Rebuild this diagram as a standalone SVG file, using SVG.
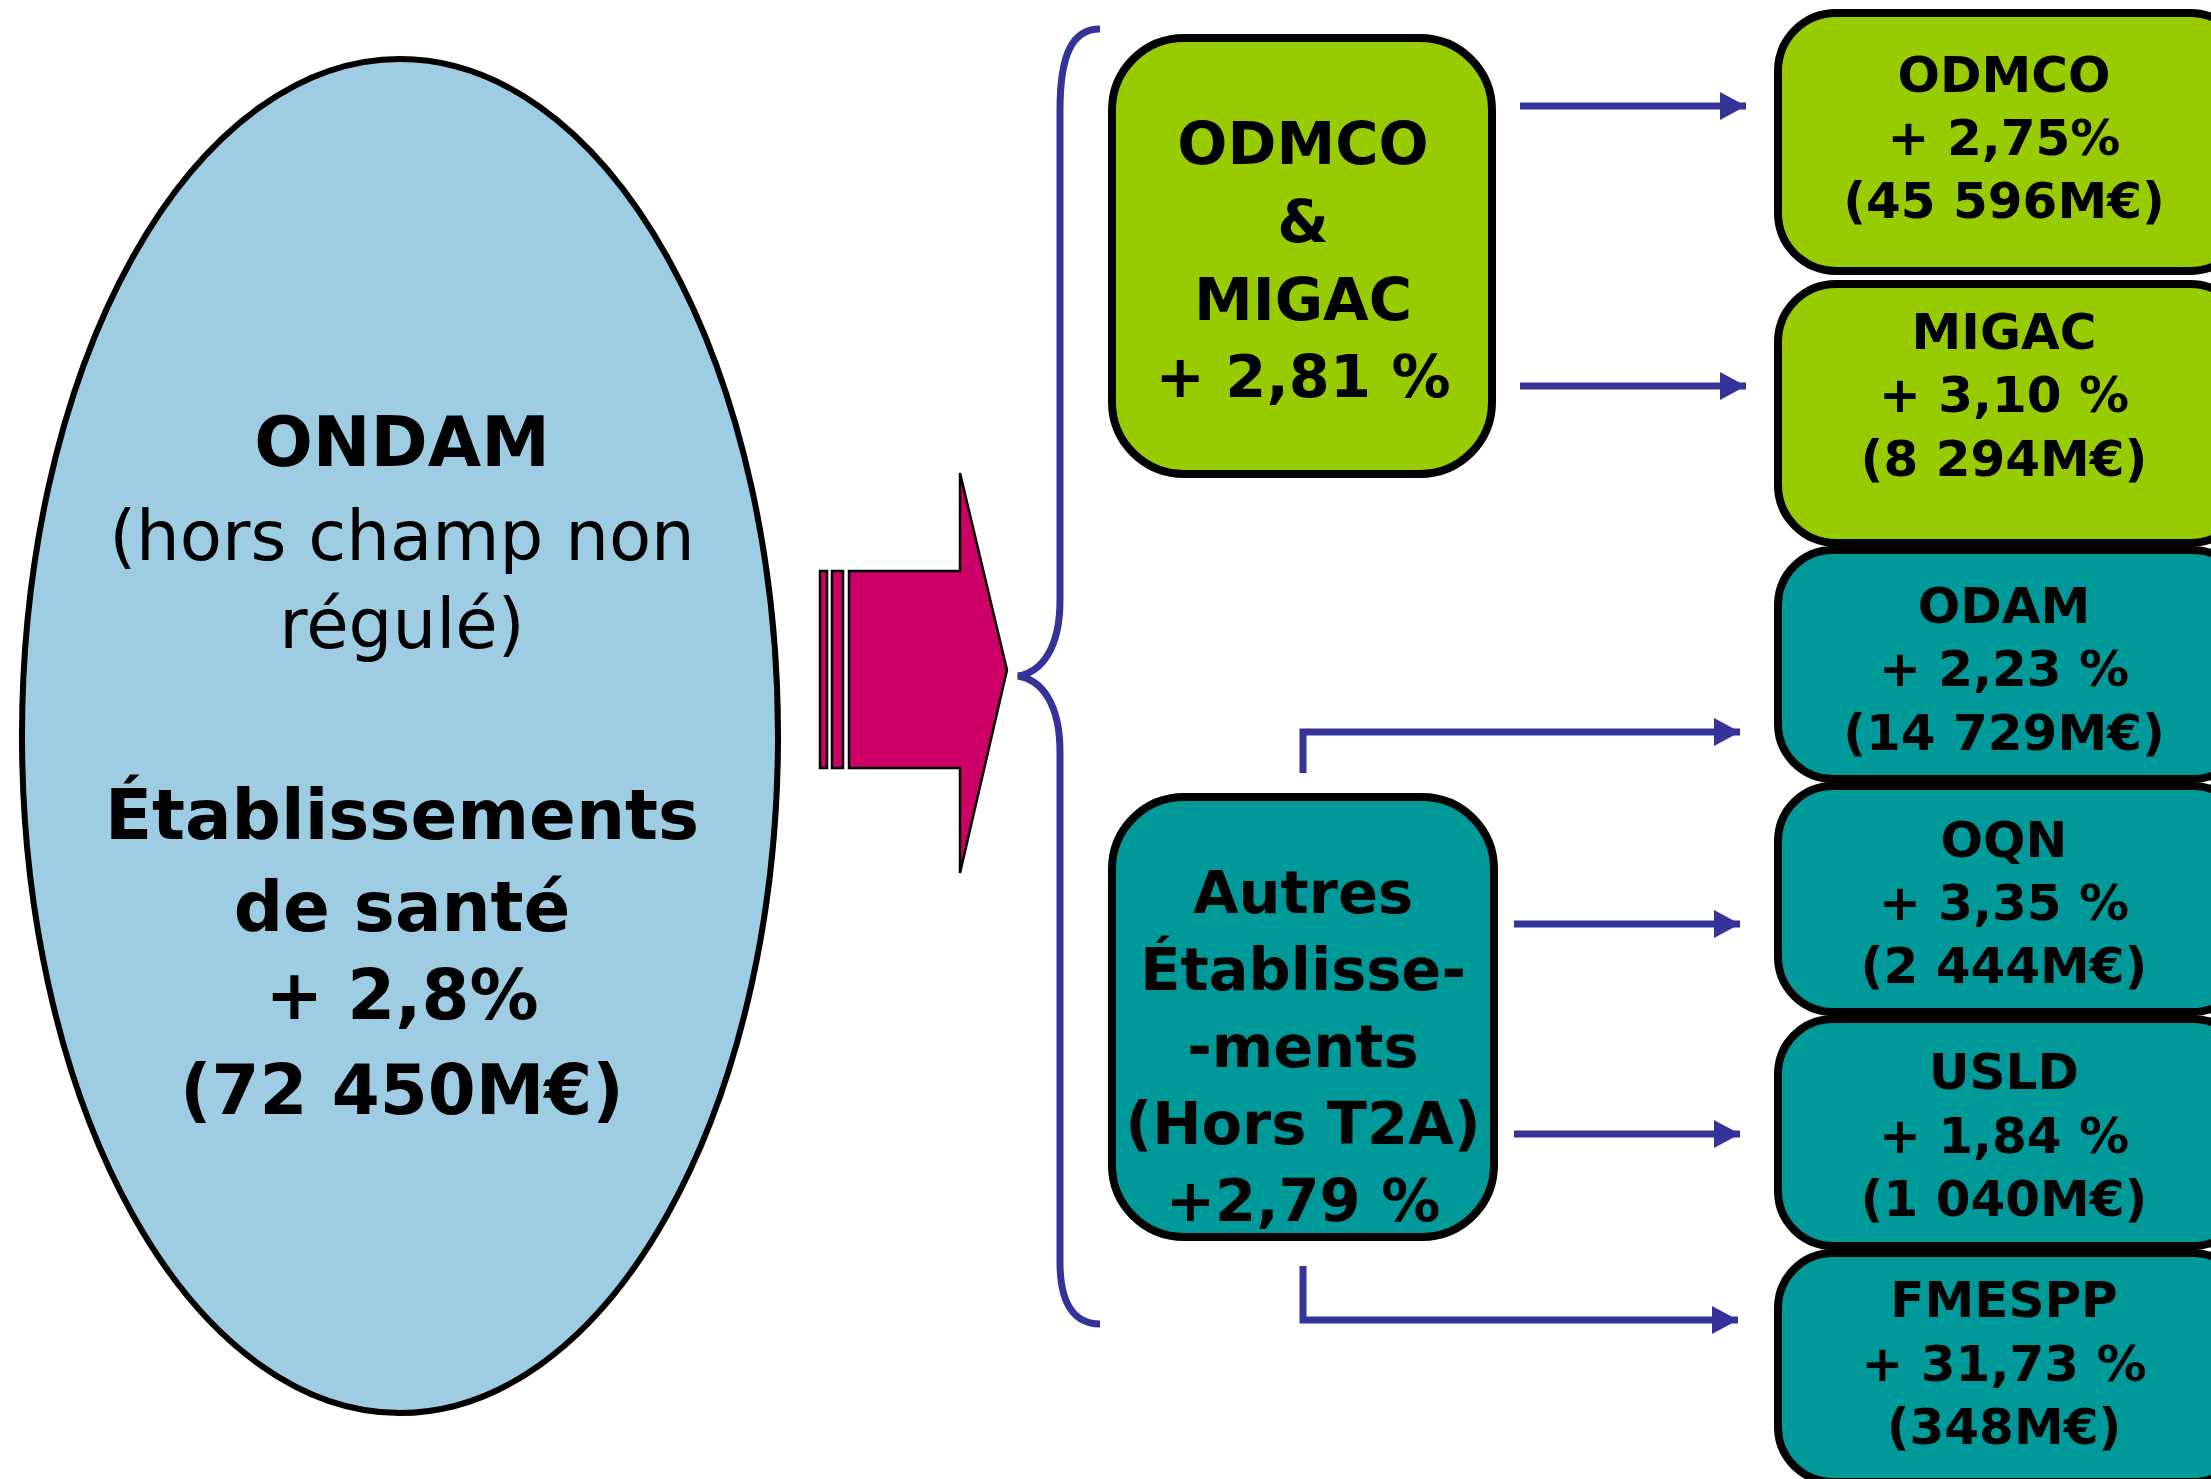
<svg xmlns="http://www.w3.org/2000/svg" width="2211" height="1479" viewBox="0 0 2211 1479">
  <style>
    .t { font-family: "DejaVu Sans", "Liberation Sans", sans-serif; font-weight: bold; text-anchor: middle; fill: #000; }
    .reg { font-weight: normal; }
    .green { fill: #99CC00; stroke: #000; stroke-width: 8; }
    .teal { fill: #009999; stroke: #000; stroke-width: 8; }
    .link { fill: none; stroke: #333399; stroke-width: 7; }
    .big { font-size: 59px; }
    .small { font-size: 50px; }
    .oval { font-size: 69px; }
  </style>
  <defs>
    <marker id="head" markerUnits="userSpaceOnUse" markerWidth="32" markerHeight="32" refX="26" refY="14" orient="auto">
      <path d="M0,0 L26,14 L0,28 Z" fill="#333399"/>
    </marker>
  </defs>
  <rect width="2211" height="1479" fill="#fff"/>

  <!-- main total -->
  <g id="ondam">
    <ellipse cx="400" cy="736" rx="378" ry="677" fill="#9ECCE2" stroke="#000" stroke-width="6"/>
    <text class="t oval" x="402" y="466">ONDAM</text>
    <text class="t oval reg" x="402" y="560">(hors champ non</text>
    <text class="t oval reg" x="402" y="648">régulé)</text>
    <text class="t oval" x="402" y="839">Établissements</text>
    <text class="t oval" x="402" y="931">de santé</text>
    <text class="t oval" x="402" y="1019">+ 2,8%</text>
    <text class="t oval" x="402" y="1114">(72 450M€)</text>
  </g>

  <!-- striped block arrow -->
  <g id="split-arrow" fill="#CC0066" stroke="#000" stroke-width="2.5">
    <rect x="820" y="571" width="7" height="197"/>
    <rect x="832" y="571" width="11" height="197"/>
    <path d="M849,571 L960,571 L960,473 L1007,670 L960,873 L960,768 L849,768 Z"/>
  </g>

  <!-- brace -->
  <g id="brace">
    <path class="link" d="M1100,29 C1072,29 1060,55 1060,110 L1060,600 C1060,648 1042,672 1018,676 C1042,680 1060,704 1060,752 L1060,1262 C1060,1305 1075,1324 1100,1324"/>
  </g>

  <g id="odmco-migac">
    <rect class="green" x="1112" y="38" width="380" height="436" rx="72"/>
    <text class="t big" x="1303" y="164">ODMCO</text>
    <text class="t big" x="1303" y="242">&amp;</text>
    <text class="t big" x="1303" y="320">MIGAC</text>
    <text class="t big" x="1303" y="397">+ 2,81 %</text>
  </g>

  <g id="autres">
    <rect class="teal" x="1112" y="797" width="382" height="440" rx="72"/>
    <text class="t big" x="1303" y="913">Autres</text>
    <text class="t big" x="1303" y="990">Établisse-</text>
    <text class="t big" x="1303" y="1067">-ments</text>
    <text class="t big" x="1303" y="1144">(Hors T2A)</text>
    <text class="t big" x="1303" y="1221">+2,79 %</text>
  </g>

  <g id="odmco">
    <rect class="green" x="1778" y="13" width="470" height="258" rx="58"/>
    <text class="t small" x="2004" y="92">ODMCO</text>
    <text class="t small" x="2004" y="155">+ 2,75%</text>
    <text class="t small" x="2004" y="218">(45 596M€)</text>
  </g>

  <g id="migac">
    <rect class="green" x="1778" y="284" width="470" height="259" rx="58"/>
    <text class="t small" x="2004" y="349">MIGAC</text>
    <text class="t small" x="2004" y="412">+ 3,10 %</text>
    <text class="t small" x="2004" y="476">(8 294M€)</text>
  </g>

  <g id="odam">
    <rect class="teal" x="1778" y="550" width="470" height="229" rx="55"/>
    <text class="t small" x="2004" y="623">ODAM</text>
    <text class="t small" x="2004" y="686">+ 2,23 %</text>
    <text class="t small" x="2004" y="750">(14 729M€)</text>
  </g>

  <g id="oqn">
    <rect class="teal" x="1778" y="786" width="470" height="226" rx="55"/>
    <text class="t small" x="2004" y="857">OQN</text>
    <text class="t small" x="2004" y="920">+ 3,35 %</text>
    <text class="t small" x="2004" y="983">(2 444M€)</text>
  </g>

  <g id="usld">
    <rect class="teal" x="1778" y="1019" width="470" height="227" rx="55"/>
    <text class="t small" x="2004" y="1089">USLD</text>
    <text class="t small" x="2004" y="1153">+ 1,84 %</text>
    <text class="t small" x="2004" y="1216">(1 040M€)</text>
  </g>

  <g id="fmespp">
    <rect class="teal" x="1778" y="1253" width="470" height="229" rx="55"/>
    <text class="t small" x="2004" y="1317">FMESPP</text>
    <text class="t small" x="2004" y="1381">+ 31,73 %</text>
    <text class="t small" x="2004" y="1444">(348M€)</text>
  </g>

  <!-- connectors -->
  <g id="connectors">
    <path class="link" d="M1520,106 L1746,106" marker-end="url(#head)"/>
    <path class="link" d="M1520,386 L1746,386" marker-end="url(#head)"/>
    <path class="link" d="M1303,773 L1303,732 L1740,732" marker-end="url(#head)"/>
    <path class="link" d="M1514,924 L1740,924" marker-end="url(#head)"/>
    <path class="link" d="M1514,1134 L1740,1134" marker-end="url(#head)"/>
    <path class="link" d="M1303,1266 L1303,1320 L1738,1320" marker-end="url(#head)"/>
  </g>
</svg>
